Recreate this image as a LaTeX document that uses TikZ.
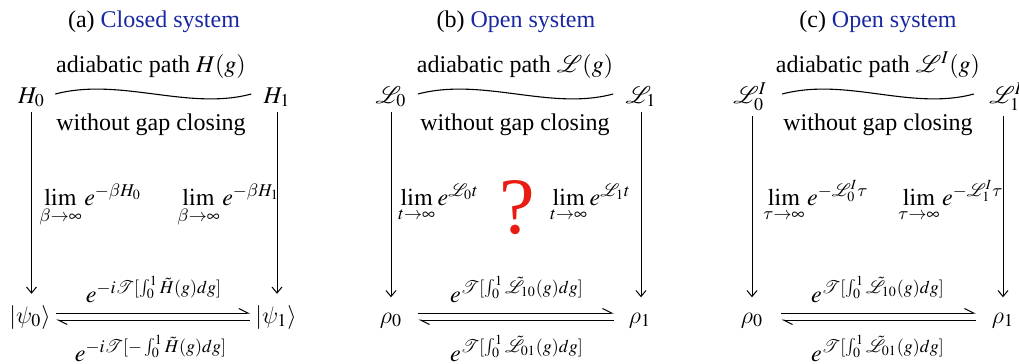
\documentclass[tikz,border=0pt]{standalone}
\usepackage{mathptmx}
\usepackage{mathrsfs}
\usepackage[no-math]{fontspec}
\setmainfont{Liberation Serif}
\newfontfamily\tnr{Liberation Serif}
\DeclareSymbolFont{cmlet}{OML}{cmm}{m}{it}
\DeclareMathSymbol{\psi}{\mathalpha}{cmlet}{"20}
\DeclareMathSymbol{\rho}{\mathalpha}{cmlet}{"1A}
\DeclareMathSymbol{\beta}{\mathalpha}{cmlet}{"0C}
\DeclareMathSymbol{\tau}{\mathalpha}{cmlet}{"1C}
\usetikzlibrary{arrows.meta}
\definecolor{ttl}{RGB}{25,40,160}
\definecolor{qred}{RGB}{232,28,18}
\tikzset{
  lbl/.style={inner sep=0pt, anchor=base},
  lblw/.style={inner sep=0pt, anchor=base west},
  varrow/.style={line width=0.5pt, -{Straight Barb[length=3pt,width=5pt]}},
  wave/.style={line width=0.55pt},
  harp/.style={line width=0.5pt, -{Straight Barb[left,length=4.5pt,width=4.5pt]}},
}
\begin{document}
\begin{tikzpicture}[x=0.5pt,y=-0.5pt,font=\tnr\fontsize{12}{14}\selectfont]
\useasboundingbox (0,0) rectangle (1019,364);
\coordinate (wy) at (0,94);
\coordinate (hu) at (0,313);
\coordinate (hd) at (0,320);

% ---------------- panel (a)
\node[lbl] (ta) at (154,27) {(a) \textcolor{ttl}{Closed system}};
\node[lbl] (pa) at (151,72) {adiabatic path $H(g)$};
\node[lbl] (A0) at (31.5,103) {$H_0$};
\node[lbl] (A1) at (277,103) {$H_1$};
\node[lbl] (ga) at (151,130) {without gap closing};
\node[lblw] (la0) at (39,205) {$\lim\limits_{\beta\to\infty} e^{-\beta H_0}$};
\node[lblw] (la1) at (177,205) {$\lim\limits_{\beta\to\infty} e^{-\beta H_1}$};
\node[lbl] (sa0) at (30,323) {$|\psi_0\rangle$};
\node[lbl] (sa1) at (276,323) {$|\psi_1\rangle$};
\node[lbl] (ua) at (154,302) {$e^{-i\mathscr{T}[\int_0^1\tilde{H}(g)dg]}$};
\node[lbl] (da) at (151,361) {$e^{-i\mathscr{T}[-\int_0^1\tilde{H}(g)dg]}$};
\draw[wave] ([xshift=5pt]A0.east |- wy) .. controls +(65,-17) and +(-63,17) .. ([xshift=-6pt]A1.west |- wy);
\draw[varrow,shorten <=2.5pt,shorten >=5.5pt] (A0.south) -- (A0.south |- sa0.north);
\draw[varrow,shorten <=2.5pt,shorten >=5.5pt] (A1.south) -- (A1.south |- sa1.north);
\draw[harp,shorten <=2.5pt,shorten >=2.5pt] (sa0.east |- hu) -- (sa1.west |- hu);
\draw[harp,shorten <=2.5pt,shorten >=2.5pt] (sa1.west |- hd) -- (sa0.east |- hd);

% ---------------- panel (b)
\node[lbl] (tb) at (516,27) {(b) \textcolor{ttl}{Open system}};
\node[lbl] (pb) at (515,72) {adiabatic path $\mathscr{L}(g)$};
\node[lbl] (B0) at (391,103) {$\mathscr{L}_0$};
\node[lbl] (B1) at (641,103) {$\mathscr{L}_1$};
\node[lbl] (gb) at (515,130) {without gap closing};
\node[lblw] (lb0) at (398,205) {$\lim\limits_{t\to\infty} e^{\mathscr{L}_0 t}$};
\node[lblw] (lb1) at (550,205) {$\lim\limits_{t\to\infty} e^{\mathscr{L}_1 t}$};
\node[lbl,text=qred,font=\tnr\fontsize{40}{44}\selectfont] (q) at (517,233) {?};
\node[lbl] (rb0) at (391,323) {$\rho_0$};
\node[lbl] (rb1) at (640,323) {$\rho_1$};
\node[lbl] (ub) at (517,302) {$e^{\mathscr{T}[\int_0^1\tilde{\mathscr{L}}_{10}(g)dg]}$};
\node[lbl] (db) at (517,361) {$e^{\mathscr{T}[\int_0^1\tilde{\mathscr{L}}_{01}(g)dg]}$};
\draw[wave] ([xshift=5.5pt]B0.east |- wy) .. controls +(65,-17) and +(-63,17) .. ([xshift=-6pt]B1.west |- wy);
\draw[varrow,shorten <=2.5pt,shorten >=7.5pt] (B0.south) -- (B0.south |- rb0.north);
\draw[varrow,shorten <=2.5pt,shorten >=7.5pt] (B1.south) -- (B1.south |- rb1.north);
\draw[harp,shorten <=8pt,shorten >=7.5pt] (rb0.east |- hu) -- (rb1.west |- hu);
\draw[harp,shorten <=7.5pt,shorten >=8pt] (rb1.west |- hd) -- (rb0.east |- hd);

% ---------------- panel (c)
\node[lbl] (tc) at (878,27) {(c) \textcolor{ttl}{Open system}};
\node[lbl] (pc) at (878,72) {adiabatic path $\mathscr{L}^I(g)$};
\node[lbl] (C0) at (750,103) {$\mathscr{L}^I_0$};
\node[lbl] (C1) at (1006,103) {$\mathscr{L}^I_1$};
\node[lbl] (gc) at (878,130) {without gap closing};
\node[lblw] (lc0) at (763,205) {$\lim\limits_{\tau\to\infty} e^{-\mathscr{L}^I_0\tau}$};
\node[lblw] (lc1) at (898,205) {$\lim\limits_{\tau\to\infty} e^{-\mathscr{L}^I_1\tau}$};
\node[lbl] (rc0) at (752,323) {$\rho_0$};
\node[lbl] (rc1) at (1003,323) {$\rho_1$};
\node[lbl] (uc) at (878,302) {$e^{\mathscr{T}[\int_0^1\tilde{\mathscr{L}}_{10}(g)dg]}$};
\node[lbl] (dc) at (878,361) {$e^{\mathscr{T}[\int_0^1\tilde{\mathscr{L}}_{01}(g)dg]}$};
\draw[wave] ([xshift=7.5pt]C0.east |- wy) .. controls +(65,-17) and +(-63,17) .. ([xshift=-7.5pt]C1.west |- wy);
\draw[varrow,shorten <=2.5pt,shorten >=7.5pt] ([xshift=1pt]C0.south) -- ([xshift=1pt]C0.south |- rc0.north);
\draw[varrow,shorten <=2.5pt,shorten >=7.5pt] ([xshift=-1.5pt]C1.south) -- ([xshift=-1.5pt]C1.south |- rc1.north);
\draw[harp,shorten <=9pt,shorten >=8pt] (rc0.east |- hu) -- (rc1.west |- hu);
\draw[harp,shorten <=8pt,shorten >=9pt] (rc1.west |- hd) -- (rc0.east |- hd);
\end{tikzpicture}
\end{document}
